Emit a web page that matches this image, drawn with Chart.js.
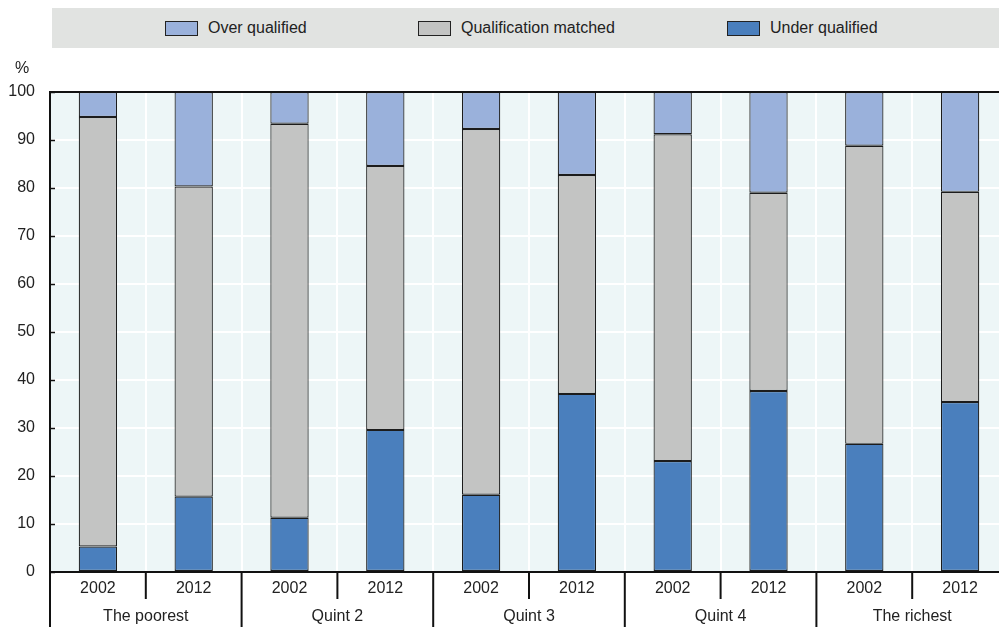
<!DOCTYPE html>
<html>
<head>
<meta charset="utf-8">
<script src="https://cdn.jsdelivr.net/npm/chart.js@4"></script>
<style>
  html, body { margin: 0; padding: 0; background: #fff; width: 999px; height: 627px; overflow: hidden; }
  #wrap { position: relative; width: 1008px; height: 627px; }
  #legend { position: absolute; left: 52px; top: 8px; width: 956px; height: 40px; background: #e1e3e1;
            font: 16px "Liberation Sans", Arial, sans-serif; color: #222; }
  .item { position: absolute; top: 0; height: 40px; display: flex; align-items: center; white-space: nowrap; }
  .sw { width: 31px; height: 13px; border: 1px solid #222; margin-right: 10px; }
  #unit { position: absolute; left: 15px; top: 59px; font: 16px "Liberation Sans", Arial, sans-serif; color: #222; }
  canvas { position: absolute; left: 0; top: 0; }
</style>
</head>
<body>
<div id="wrap">
  <canvas id="c" width="1008" height="627"></canvas>
  <div id="legend"></div>
  <div id="unit">%</div>
</div>
<script>
// Income quintiles and survey years
const groups = ['The poorest', 'Quint 2', 'Quint 3', 'Quint 4', 'The richest'];
const years = ['2002', '2012'];

// Share of workers (%) by qualification match, one value per group/year bar
const underQualified = [5.3, 15.7, 11.3, 29.6, 16.1, 37.1, 23.1, 37.7, 26.7, 35.4];
const qualificationMatched = [89.5, 64.6, 82.1, 55.0, 76.2, 45.6, 68.1, 41.3, 62.1, 43.8];
const overQualified = [5.2, 19.7, 6.6, 15.4, 7.7, 17.3, 8.8, 21.0, 11.2, 20.8];

const yTicks = [0, 10, 20, 30, 40, 50, 60, 70, 80, 90, 100];

const FONT = '"Liberation Sans", Arial, sans-serif';
const TEXT = '#222';
const COLORS = { over: '#9ab1db', matched: '#c3c4c3', under: '#4a7fbd' };

const labels = [];
groups.forEach(() => years.forEach(y => labels.push(y)));

// Legend strip
const legendItems = [
  { text: 'Over qualified', color: COLORS.over, left: 113 },
  { text: 'Qualification matched', color: COLORS.matched, left: 366 },
  { text: 'Under qualified', color: COLORS.under, left: 675 }
];
const legendEl = document.getElementById('legend');
legendItems.forEach(it => {
  const d = document.createElement('div');
  d.className = 'item';
  d.style.left = it.left + 'px';
  d.innerHTML = '<span class="sw" style="background:' + it.color + '"></span><span>' + it.text + '</span>';
  legendEl.appendChild(d);
});

const plotFrame = {
  id: 'plotFrame',
  beforeDraw(chart) {
    const a = chart.chartArea, ctx = chart.ctx;
    ctx.save();
    ctx.fillStyle = '#edf6f7';
    ctx.fillRect(a.left, a.top, a.right - a.left, a.bottom - a.top);
    ctx.restore();
  },
  afterDraw(chart) {
    const a = chart.chartArea, ctx = chart.ctx;
    const x = chart.scales.x, y = chart.scales.y;
    ctx.save();
    ctx.strokeStyle = '#111';
    // top frame line
    ctx.lineWidth = 2;
    ctx.beginPath();
    ctx.moveTo(a.left, a.top);
    ctx.lineTo(a.right, a.top);
    ctx.stroke();
    // short inner ticks on the value axis
    ctx.lineWidth = 1.5;
    yTicks.forEach(v => {
      const py = Math.round(y.getPixelForValue(v)) + 0.5;
      ctx.beginPath();
      ctx.moveTo(a.left, py);
      ctx.lineTo(a.left + 5, py);
      ctx.stroke();
    });
    // category separators below the axis
    const slot = x.getPixelForValue(1) - x.getPixelForValue(0);
    ctx.lineWidth = 2;
    for (let i = 0; i <= labels.length; i++) {
      const px = x.getPixelForValue(0) - slot / 2 + i * slot;
      const groupEdge = i % years.length === 0;
      ctx.beginPath();
      ctx.moveTo(px, a.bottom);
      ctx.lineTo(px, groupEdge ? chart.height : a.bottom + 27);
      ctx.stroke();
    }
    // group names
    ctx.fillStyle = TEXT;
    ctx.font = '16px ' + FONT;
    ctx.textAlign = 'center';
    ctx.textBaseline = 'middle';
    groups.forEach((g, gi) => {
      const cx = (x.getPixelForValue(gi * 2) + x.getPixelForValue(gi * 2 + 1)) / 2;
      ctx.fillText(g, cx, a.bottom + 45);
    });
    ctx.restore();
  }
};

const barStyle = { borderColor: '#1c1c1c', borderWidth: 1.2, borderSkipped: false,
                   barPercentage: 0.4, categoryPercentage: 1.0 };

new Chart(document.getElementById('c'), {
  type: 'bar',
  data: {
    labels: labels,
    datasets: [
      Object.assign({ label: 'Under qualified', data: underQualified, backgroundColor: COLORS.under }, barStyle),
      Object.assign({ label: 'Qualification matched', data: qualificationMatched, backgroundColor: COLORS.matched }, barStyle),
      Object.assign({ label: 'Over qualified', data: overQualified, backgroundColor: COLORS.over }, barStyle)
    ]
  },
  options: {
    responsive: false,
    animation: false,
    layout: { padding: { top: 92, right: 0, left: 0, bottom: 0 } },
    plugins: { legend: { display: false }, tooltip: { enabled: false } },
    scales: {
      x: {
        stacked: true,
        afterFit(s) { s.height = 55; },
        grid: { color: '#ffffff', lineWidth: 2, offset: true, drawTicks: false },
        border: { display: true, color: '#111', width: 2 },
        ticks: { color: TEXT, font: { family: FONT, size: 16 }, padding: 7, maxRotation: 0, autoSkip: false }
      },
      y: {
        stacked: true,
        min: 0, max: 100,
        afterFit(s) { s.width = 50; },
        afterBuildTicks(s) { s.ticks = yTicks.map(v => ({ value: v })); },
        grid: { color: '#ffffff', lineWidth: 2, drawTicks: false },
        border: { display: true, color: '#111', width: 2 },
        ticks: { color: TEXT, font: { family: FONT, size: 16 }, padding: 15 }
      }
    }
  },
  plugins: [plotFrame]
});
</script>
</body>
</html>
